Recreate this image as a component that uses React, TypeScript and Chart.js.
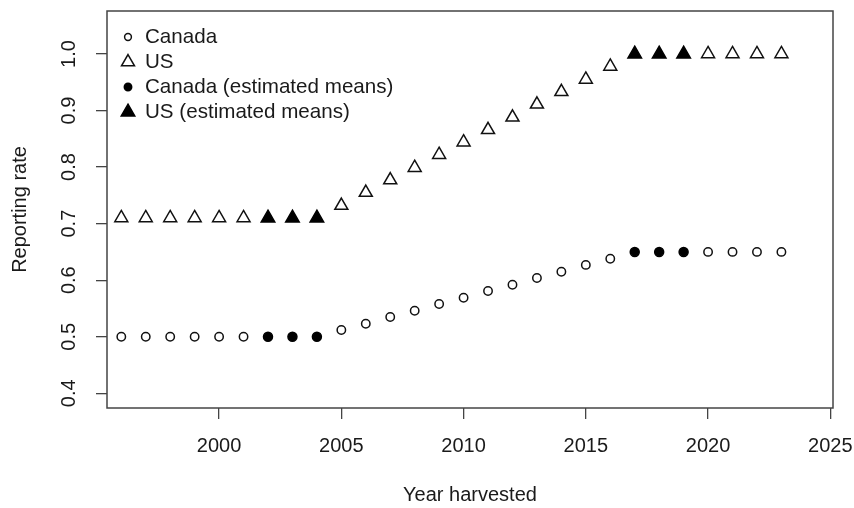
import React, { useEffect, useRef } from 'react';
import { Chart, registerables } from 'chart.js';
import { drawPoint } from 'chart.js/helpers';

Chart.register(...registerables);

const years = [1996, 1997, 1998, 1999, 2000, 2001, 2002, 2003, 2004, 2005, 2006, 2007, 2008, 2009, 2010, 2011, 2012, 2013, 2014, 2015, 2016, 2017, 2018, 2019, 2020, 2021, 2022, 2023];
const canadaRates = [0.5, 0.5, 0.5, 0.5, 0.5, 0.5, 0.5, 0.5, 0.5, 0.512, 0.523, 0.535, 0.546, 0.558, 0.569, 0.581, 0.592, 0.604, 0.615, 0.627, 0.638, 0.65, 0.65, 0.65, 0.65, 0.65, 0.65, 0.65];
const usRates = [0.71, 0.71, 0.71, 0.71, 0.71, 0.71, 0.71, 0.71, 0.71, 0.732, 0.755, 0.777, 0.799, 0.822, 0.844, 0.866, 0.888, 0.911, 0.933, 0.955, 0.978, 1.0, 1.0, 1.0, 1.0, 1.0, 1.0, 1.0];
const estimatedYears = [2002, 2003, 2004, 2017, 2018, 2019];
const legendLabels = ['Canada', 'US', 'Canada (estimated means)', 'US (estimated means)'];
const xTickValues = [2000, 2005, 2010, 2015, 2020, 2025];
const yTickValues = [0.4, 0.5, 0.6, 0.7, 0.8, 0.9, 1.0];
const xTitle = 'Year harvested';
const yTitle = 'Reporting rate';

const FONT = '"Liberation Sans", Arial, Helvetica, sans-serif';
const INK = '#1a1a1a';

function pick(values: number[], estimated: boolean) {
  const out: { x: number; y: number }[] = [];
  years.forEach((yr, i) => {
    if (estimatedYears.includes(yr) === estimated) out.push({ x: yr, y: values[i] });
  });
  return out;
}

const rPlugin = {
  id: 'rStyle',
  afterDraw(chart: any) {
    const { ctx, chartArea: a, scales } = chart;
    ctx.save();
    // box
    ctx.strokeStyle = '#444';
    ctx.lineWidth = 1.5;
    ctx.strokeRect(a.left, a.top, a.right - a.left, a.bottom - a.top);
    // rotated y tick labels
    ctx.fillStyle = INK;
    ctx.font = `20px ${FONT}`;
    ctx.textAlign = 'center';
    ctx.textBaseline = 'middle';
    scales.y.ticks.forEach((t: any) => {
      const py = scales.y.getPixelForValue(t.value);
      ctx.save();
      ctx.translate(a.left - 38, py);
      ctx.rotate(-Math.PI / 2);
      ctx.fillText(Number(t.value).toFixed(1), 0, 0);
      ctx.restore();
    });
    // legend
    ctx.textAlign = 'left';
    ctx.font = `20.6px ${FONT}`;
    chart.data.datasets.forEach((ds: any, i: number) => {
      const cy = a.top + 26 + i * 25;
      const cx = a.left + 21;
      ctx.fillStyle = ds.backgroundColor;
      ctx.strokeStyle = ds.borderColor;
      ctx.lineWidth = ds.borderWidth;
      const r = ds.pointStyle === 'circle' ? ds.pointRadius - 0.8 : ds.pointRadius;
      drawPoint(ctx, { pointStyle: ds.pointStyle, rotation: 0, radius: r, borderWidth: ds.borderWidth }, cx, cy);
      ctx.fillStyle = INK;
      ctx.fillText(legendLabels[i], a.left + 38, cy);
    });
    ctx.restore();
  },
};

export default function App() {
  const ref = useRef<HTMLCanvasElement | null>(null);
  useEffect(() => {
    if (!ref.current) return;
    const chart = new Chart(ref.current, {
      type: 'scatter',
      data: {
        datasets: [
          { label: legendLabels[0], data: pick(canadaRates, false), pointStyle: 'circle', pointRadius: 4.2, borderWidth: 1.5, borderColor: '#111', backgroundColor: 'rgba(255,255,255,0)' },
          { label: legendLabels[1], data: pick(usRates, false), pointStyle: 'triangle', pointRadius: 7.5, borderWidth: 1.5, borderColor: '#111', backgroundColor: 'rgba(255,255,255,0)' },
          { label: legendLabels[2], data: pick(canadaRates, true), pointStyle: 'circle', pointRadius: 4.5, borderWidth: 1.5, borderColor: '#000', backgroundColor: '#000' },
          { label: legendLabels[3], data: pick(usRates, true), pointStyle: 'triangle', pointRadius: 7.8, borderWidth: 1.5, borderColor: '#000', backgroundColor: '#000' },
        ] as any,
      },
      options: {
        animation: false,
        responsive: false,
        devicePixelRatio: 1,
        layout: { padding: { top: 11, right: 21, left: 0, bottom: 0 } },
        plugins: { legend: { display: false }, tooltip: { enabled: false } },
        scales: {
          x: {
            type: 'linear',
            min: 1995.415,
            max: 2025.11,
            afterBuildTicks: (s: any) => { s.ticks = xTickValues.map((v) => ({ value: v })); },
            afterFit: (s: any) => { s.height = 100; s.paddingLeft = 0; s.paddingRight = 0; },
            grid: { display: true, drawOnChartArea: false, drawTicks: true, tickLength: 11, color: '#444', lineWidth: 1.3 },
            border: { display: false },
            ticks: { color: INK, font: { family: FONT, size: 20 }, padding: 15, maxRotation: 0, autoSkip: false, callback: (v: any) => String(v) },
            title: { display: true, text: xTitle, color: INK, font: { family: FONT, size: 20 }, padding: { top: 0, bottom: 1 } },
          },
          y: {
            type: 'linear',
            min: 0.374,
            max: 1.076,
            afterBuildTicks: (s: any) => { s.ticks = yTickValues.map((v) => ({ value: v })); },
            afterFit: (s: any) => { s.width = 107; s.paddingTop = 0; s.paddingBottom = 0; },
            grid: { display: true, drawOnChartArea: false, drawTicks: true, tickLength: 11, color: '#444', lineWidth: 1.3 },
            border: { display: false },
            ticks: { color: 'rgba(0,0,0,0)', font: { family: FONT, size: 20 }, padding: 4 },
            title: { display: true, text: yTitle, color: INK, font: { family: FONT, size: 20 }, padding: { top: 8, bottom: 0 } },
          },
        },
      },
      plugins: [rPlugin],
    });
    return () => chart.destroy();
  }, []);
  return (
    <div style={{ position: 'fixed', left: 0, top: 0, width: 854, height: 508, background: '#fff' }}>
      <canvas ref={ref} width={854} height={508} style={{ display: 'block', width: 854, height: 508 }} />
    </div>
  );
}
